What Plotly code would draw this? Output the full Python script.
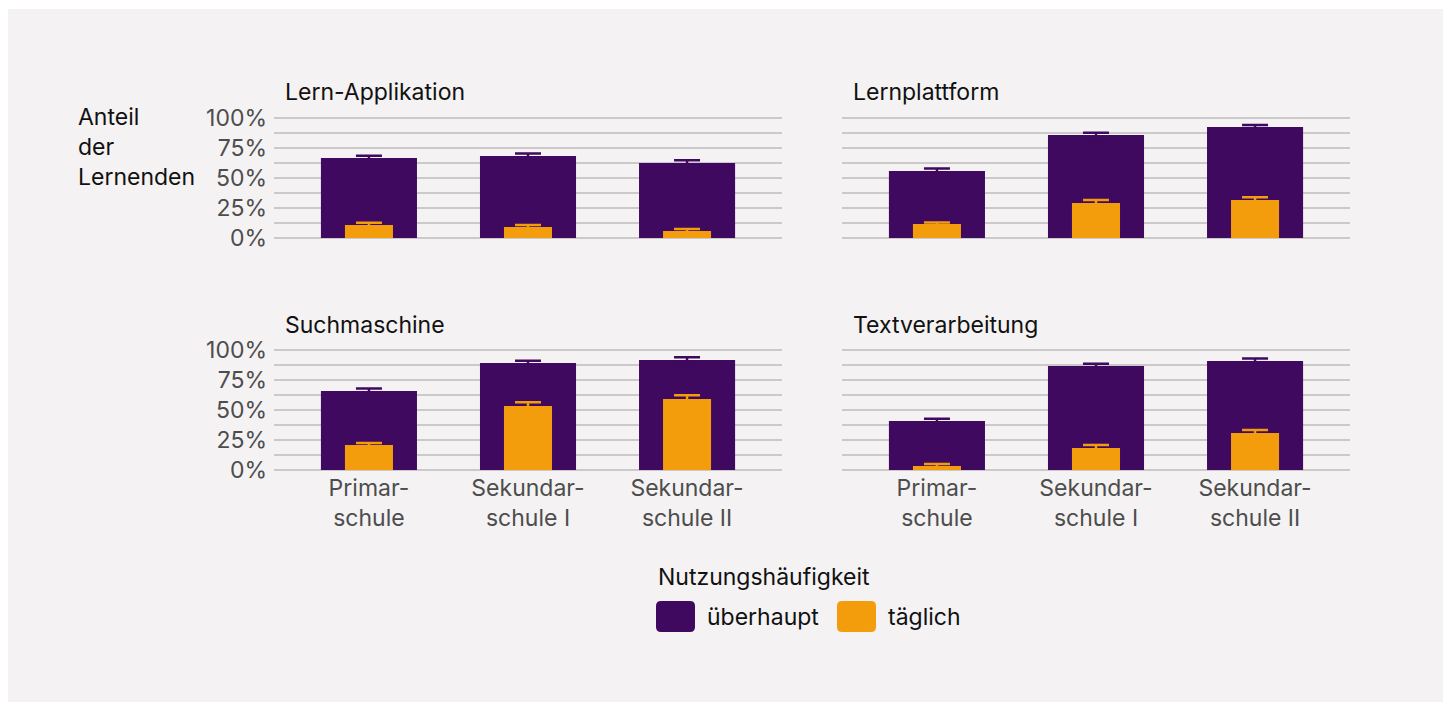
import plotly.graph_objects as go

# ---- data ----
categories = ["Primar-<br>schule", "Sekundar-<br>schule I", "Sekundar-<br>schule II"]
panels = ["Lern-Applikation", "Lernplattform", "Suchmaschine", "Textverarbeitung"]
series_names = ["überhaupt", "täglich"]

ueberhaupt = {
    "Lern-Applikation": [66.7, 68.3, 62.5],
    "Lernplattform": [55.8, 85.8, 92.5],
    "Suchmaschine": [65.8, 89.2, 91.7],
    "Textverarbeitung": [40.8, 86.7, 90.8],
}
ueberhaupt_err = {
    "Lern-Applikation": [1.9, 2.2, 2.2],
    "Lernplattform": [2.2, 2.0, 1.7],
    "Suchmaschine": [2.2, 1.8, 2.2],
    "Textverarbeitung": [2.0, 1.9, 2.2],
}
taeglich = {
    "Lern-Applikation": [10.8, 9.2, 5.8],
    "Lernplattform": [11.7, 29.2, 31.7],
    "Suchmaschine": [20.8, 53.3, 59.2],
    "Textverarbeitung": [3.3, 18.3, 30.8],
}
taeglich_err = {
    "Lern-Applikation": [2.0, 1.6, 1.7],
    "Lernplattform": [1.3, 2.5, 2.2],
    "Suchmaschine": [1.7, 3.1, 3.0],
    "Textverarbeitung": [1.7, 2.5, 2.5],
}
y_tickvals = [0, 25, 50, 75, 100]
y_ticktext = ["0%", "25%", "50%", "75%", "100%"]
y_title = "Anteil<br>der<br>Lernenden"
legend_title = "Nutzungshäufigkeit"

# ---- style ----
W, H = 1451, 702
OX, OY = 8, 8  # page body margin offset
PURPLE = "#3f0960"
ORANGE = "#f39d0d"
BG = "#f4f2f3"
GRID = "#cbc9ca"
FONT = "Inter"
FS = 23
TICK_COLOR = "#4d4d4d"
TEXT_COLOR = "#111111"

def px_x(v):
    return (v - OX) / W

def px_y(v):
    return 1 - (v - OY) / H

PAD = 2.0  # range padding (in %) so edge gridlines are drawn
PXU = 1.2  # pixels per percent
x_domains = [(274, 782), (842, 1350)]
y_domains = [(118 - PAD * PXU, 238 + PAD * PXU), (350 - PAD * PXU, 470 + PAD * PXU)]

fig = go.Figure()

for i, panel in enumerate(panels):
    r, c = divmod(i, 2)
    n = i + 1
    xa = "x" if n == 1 else f"x{n}"
    ya = "y" if n == 1 else f"y{n}"
    fig.add_trace(go.Bar(
        x=categories, y=ueberhaupt[panel], name=series_names[0],
        marker=dict(color=PURPLE, line=dict(width=0)), width=0.604,
        error_y=dict(type="data", array=ueberhaupt_err[panel], color=PURPLE,
                     thickness=2.5, width=13),
        xaxis=xa, yaxis=ya, showlegend=False, hoverinfo="skip",
    ))
    fig.add_trace(go.Bar(
        x=categories, y=taeglich[panel], name=series_names[1],
        marker=dict(color=ORANGE, line=dict(width=0)), width=0.302,
        error_y=dict(type="data", array=taeglich_err[panel], color=ORANGE,
                     thickness=2.5, width=13),
        xaxis=xa, yaxis=ya, showlegend=False, hoverinfo="skip",
    ))
    xd = x_domains[c]
    yd = y_domains[r]
    xkey = "xaxis" if n == 1 else f"xaxis{n}"
    ykey = "yaxis" if n == 1 else f"yaxis{n}"
    fig.update_layout(**{
        xkey: dict(
            domain=[px_x(xd[0]), px_x(xd[1])], anchor=ya,
            range=[-0.597, 2.597], showgrid=False, zeroline=False,
            showline=False, ticks="", showticklabels=(r == 1),
            tickfont=dict(family=FONT, size=FS, color=TICK_COLOR),
            ticklabelstandoff=0, fixedrange=True, automargin=False,
        ),
        ykey: dict(
            domain=[px_y(yd[1]), px_y(yd[0])], anchor=xa,
            range=[-PAD, 100 + PAD], tickvals=y_tickvals, ticktext=y_ticktext,
            showticklabels=(c == 0), showgrid=True, gridcolor=GRID, gridwidth=1.5,
            minor=dict(dtick=12.5, tick0=0, showgrid=True, gridcolor=GRID, gridwidth=1.5),
            zeroline=False, showline=False, ticks="",
            tickfont=dict(family=FONT, size=FS, color=TICK_COLOR),
            ticklabelstandoff=6, fixedrange=True, automargin=False,
        ),
    })
    # panel title
    fig.add_annotation(
        text=panel, xref="paper", yref="paper",
        x=px_x(283 if c == 0 else 851), y=px_y(92 if r == 0 else 325),
        xanchor="left", yanchor="middle", showarrow=False,
        font=dict(family=FONT, size=FS, color=TEXT_COLOR),
    )

# background panel
fig.add_shape(type="rect", xref="paper", yref="paper",
              x0=px_x(6), x1=px_x(1443), y0=px_y(702), y1=px_y(9),
              fillcolor=BG, line=dict(width=0), layer="below")

# y-axis title
fig.add_annotation(
    text=y_title, xref="paper", yref="paper", x=px_x(76), y=px_y(147),
    xanchor="left", yanchor="middle", align="left", showarrow=False,
    font=dict(family=FONT, size=FS, color=TEXT_COLOR),
)

# legend (drawn manually)
fig.add_annotation(
    text=legend_title, xref="paper", yref="paper", x=px_x(656), y=px_y(577),
    xanchor="left", yanchor="middle", showarrow=False,
    font=dict(family=FONT, size=FS, color=TEXT_COLOR),
)

def rounded_rect(x0, y0, x1, y1, rad):
    X0, X1 = px_x(x0), px_x(x1)
    Y0, Y1 = px_y(y1), px_y(y0)
    rx, ry = rad / W, rad / H
    return (f"M{X0+rx},{Y0} L{X1-rx},{Y0} Q{X1},{Y0} {X1},{Y0+ry} "
            f"L{X1},{Y1-ry} Q{X1},{Y1} {X1-rx},{Y1} L{X0+rx},{Y1} "
            f"Q{X0},{Y1} {X0},{Y1-ry} L{X0},{Y0+ry} Q{X0},{Y0} {X0+rx},{Y0} Z")

legend_items = [(series_names[0], PURPLE, 656, 705), (series_names[1], ORANGE, 837, 886)]
for name, color, sx, tx in legend_items:
    fig.add_shape(type="path", xref="paper", yref="paper",
                  path=rounded_rect(sx, 601, sx + 39, 632, 5),
                  fillcolor=color, line=dict(width=0))
    fig.add_annotation(
        text=name, xref="paper", yref="paper", x=px_x(tx), y=px_y(617),
        xanchor="left", yanchor="middle", showarrow=False,
        font=dict(family=FONT, size=FS, color=TEXT_COLOR),
    )

fig.update_layout(
    width=W, height=H, barmode="overlay",
    margin=dict(l=0, r=0, t=0, b=0, autoexpand=False),
    paper_bgcolor="white", plot_bgcolor="rgba(0,0,0,0)",
    font=dict(family=FONT),
    showlegend=False,
)

fig.write_html("out.html")
